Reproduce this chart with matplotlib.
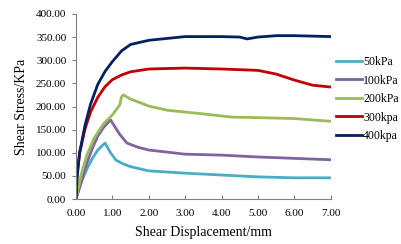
import matplotlib.pyplot as plt

plt.rcParams["font.family"] = ["Liberation Serif", "DejaVu Serif"]

LABELS = ["50kPa", "100kPa", "200kPa", "300kpa", "400kpa"]
COLORS = ["#4BACC6", "#8064A2", "#9BBB59", "#C00000", "#002060"]

X_50 = [0.0, 0.05, 0.15, 0.3, 0.45, 0.6, 0.7, 0.8, 0.95, 1.1, 1.3, 1.5, 2.0,
        3.0, 4.0, 5.0, 6.0, 7.0]
Y_50 = [0, 15, 38, 65, 88, 106, 114, 121, 100, 84, 76, 70, 61,
        56, 52, 48, 46, 46]

X_100 = [0.0, 0.05, 0.15, 0.3, 0.45, 0.6, 0.75, 0.9, 0.95, 1.2, 1.4, 1.7,
         2.0, 3.0, 4.0, 5.0, 6.0, 7.0]
Y_100 = [0, 12, 38, 78, 110, 136, 154, 167, 171, 140, 121, 112,
         106, 97, 95, 91, 88, 85]

X_200 = [0.0, 0.05, 0.15, 0.3, 0.5, 0.75, 1.0, 1.2, 1.25, 1.3, 1.5, 2.0, 2.5,
         3.0, 3.5, 4.3, 5.0, 6.0, 7.0]
Y_200 = [0, 20, 55, 95, 132, 162, 182, 203, 221, 225, 216, 201, 192,
         188, 184, 177, 176, 174, 168]

X_300 = [0.0, 0.03, 0.1, 0.25, 0.4, 0.6, 0.8, 1.0, 1.25, 1.5, 2.0, 3.0, 4.0,
         5.0, 5.5, 6.0, 6.5, 7.0]
Y_300 = [0, 55, 100, 152, 188, 220, 243, 258, 268, 275, 281, 283, 281,
         278, 270, 257, 246, 242]

X_400 = [0.0, 0.03, 0.1, 0.25, 0.4, 0.6, 0.8, 1.0, 1.25, 1.5, 2.0, 3.0, 4.0,
         4.5, 4.7, 5.0, 5.5, 6.0, 7.0]
Y_400 = [0, 45, 100, 160, 205, 248, 276, 297, 320, 334, 343, 351, 351,
         350, 346, 350, 353, 353, 351]

SERIES = [(X_50, Y_50), (X_100, Y_100), (X_200, Y_200), (X_300, Y_300),
          (X_400, Y_400)]


def main():
    fig = plt.figure(figsize=(4.02, 2.44), dpi=100)
    ax = fig.add_axes([0.189, 0.184, 0.634, 0.759])

    for (xs, ys), label, color in zip(SERIES, LABELS, COLORS):
        ax.plot(xs, ys, color=color, lw=2.0, label=label,
                solid_joinstyle="round")

    ax.set_xlim(0, 7)
    ax.set_ylim(0, 400)
    ax.set_xticks(range(0, 8))
    ax.set_xticklabels([f"{v:.2f}" for v in range(0, 8)])
    ax.set_yticks(range(0, 401, 50))
    ax.set_yticklabels([f"{v:.2f}" for v in range(0, 401, 50)])

    for side in ["top", "right"]:
        ax.spines[side].set_visible(False)
    for side in ["left", "bottom"]:
        ax.spines[side].set_color("#808080")
        ax.spines[side].set_linewidth(0.8)
    ax.tick_params(axis="x", direction="in", length=3, color="#808080",
                   labelsize=8, pad=7)
    ax.tick_params(axis="y", direction="out", length=3, color="#808080",
                   labelsize=8, pad=4)

    ax.set_xlabel("Shear Displacement/mm", fontsize=10, labelpad=6)
    ax.set_ylabel("Shear Stress/KPa", fontsize=10, labelpad=6)

    ax.legend(loc="center left", bbox_to_anchor=(1.0, 0.54), frameon=False,
              fontsize=8.5, handlelength=2.2, handletextpad=0.15,
              labelspacing=0.55, borderaxespad=0, borderpad=0.4)

    plt.savefig("out.png", dpi=100)


if __name__ == "__main__":
    main()
